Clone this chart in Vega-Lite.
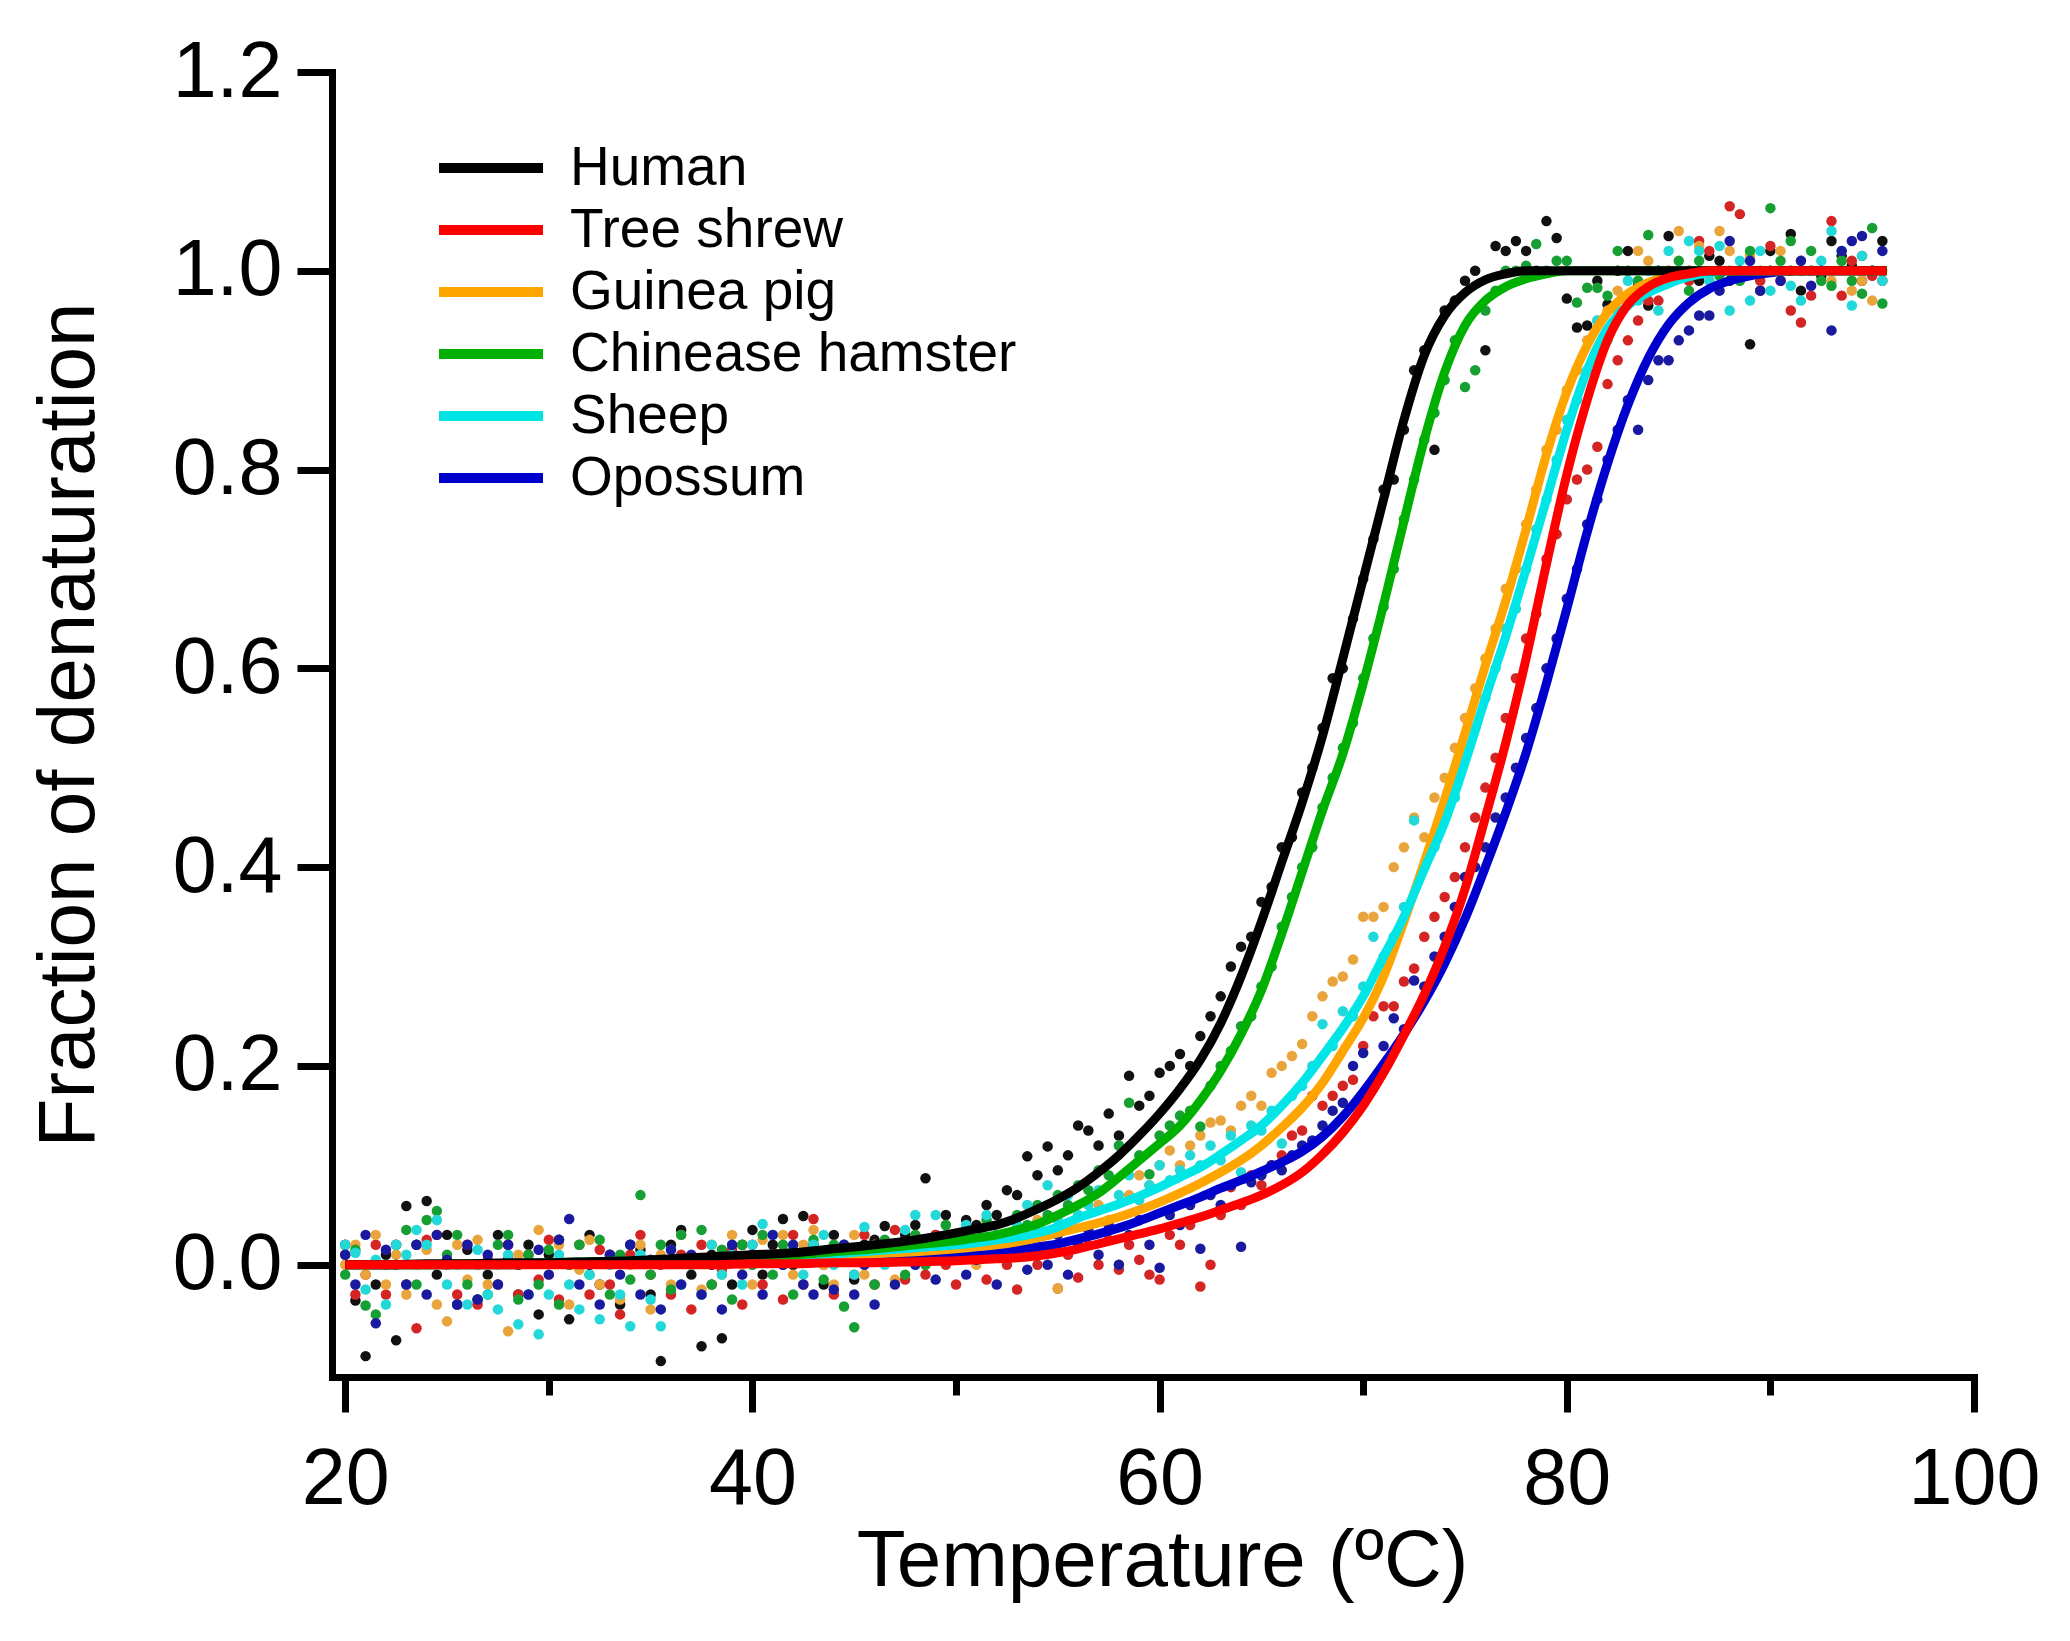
{
"$schema":"https://vega.github.io/schema/vega-lite/v6.json",
"width":1642,"height":1305,
"autosize":{"type":"none"},
"padding":{"left":332,"top":72,"right":96,"bottom":264},
"background":"white",
"config":{"view":{"stroke":null},"font":"Liberation Sans"},
"datasets":{
"obs":[
{"t":20,"Human":0.02,"Tree shrew":0.01,"Guinea pig":0,"Chinease hamster":-0.01,"Sheep":0.02,"Opossum":0.01},
{"t":20.5,"Human":-0.036,"Tree shrew":-0.03,"Guinea pig":0.02,"Chinease hamster":0.015,"Sheep":0.012,"Opossum":-0.02},
{"t":21,"Human":-0.092,"Tree shrew":-0.01,"Guinea pig":-0.01,"Chinease hamster":-0.041,"Sheep":-0.025,"Opossum":0.03},
{"t":21.5,"Human":-0.02,"Tree shrew":0.02,"Guinea pig":0.03,"Chinease hamster":-0.05,"Sheep":0.005,"Opossum":-0.059},
{"t":22,"Human":0.01,"Tree shrew":-0.03,"Guinea pig":-0.02,"Chinease hamster":0,"Sheep":-0.04,"Opossum":0.015},
{"t":22.5,"Human":-0.076,"Tree shrew":0.02,"Guinea pig":0.01,"Chinease hamster":0.02,"Sheep":0.02,"Opossum":0},
{"t":23,"Human":0.059,"Tree shrew":-0.02,"Guinea pig":-0.03,"Chinease hamster":0.035,"Sheep":0.01,"Opossum":-0.02},
{"t":23.5,"Human":0.02,"Tree shrew":-0.064,"Guinea pig":0,"Chinease hamster":-0.02,"Sheep":0.035,"Opossum":0.02},
{"t":24,"Human":0.064,"Tree shrew":0.025,"Guinea pig":0.015,"Chinease hamster":0.045,"Sheep":0.02,"Opossum":-0.03},
{"t":24.5,"Human":-0.01,"Tree shrew":0.03,"Guinea pig":-0.04,"Chinease hamster":0.054,"Sheep":0.045,"Opossum":0.03},
{"t":25,"Human":0.03,"Tree shrew":0,"Guinea pig":-0.057,"Chinease hamster":0.01,"Sheep":-0.02,"Opossum":0.005},
{"t":25.5,"Human":-0.04,"Tree shrew":-0.03,"Guinea pig":0.02,"Chinease hamster":0.03,"Sheep":0,"Opossum":-0.04},
{"t":26,"Human":0.015,"Tree shrew":0.02,"Guinea pig":-0.015,"Chinease hamster":-0.02,"Sheep":-0.04,"Opossum":0.02},
{"t":26.5,"Human":-0.035,"Tree shrew":-0.04,"Guinea pig":0.025,"Chinease hamster":0,"Sheep":0.015,"Opossum":-0.035},
{"t":27,"Human":-0.01,"Tree shrew":0.005,"Guinea pig":-0.02,"Chinease hamster":-0.03,"Sheep":-0.03,"Opossum":0.01},
{"t":27.5,"Human":0.03,"Tree shrew":-0.02,"Guinea pig":0,"Chinease hamster":0.02,"Sheep":-0.045,"Opossum":-0.02},
{"t":28,"Human":0.005,"Tree shrew":0.02,"Guinea pig":-0.067,"Chinease hamster":0.03,"Sheep":0.01,"Opossum":0.02},
{"t":28.5,"Human":-0.03,"Tree shrew":-0.03,"Guinea pig":0.01,"Chinease hamster":-0.035,"Sheep":-0.06,"Opossum":0},
{"t":29,"Human":0.02,"Tree shrew":0.01,"Guinea pig":-0.03,"Chinease hamster":0.01,"Sheep":-0.03,"Opossum":-0.03},
{"t":29.5,"Human":-0.05,"Tree shrew":-0.015,"Guinea pig":0.035,"Chinease hamster":-0.02,"Sheep":-0.07,"Opossum":0.015},
{"t":30,"Human":0.01,"Tree shrew":0.025,"Guinea pig":-0.01,"Chinease hamster":0.015,"Sheep":-0.03,"Opossum":-0.01},
{"t":30.5,"Human":0.025,"Tree shrew":-0.035,"Guinea pig":0.02,"Chinease hamster":-0.04,"Sheep":0.01,"Opossum":0.025},
{"t":31,"Human":-0.055,"Tree shrew":0,"Guinea pig":-0.04,"Chinease hamster":0,"Sheep":-0.02,"Opossum":0.046},
{"t":31.5,"Human":0,"Tree shrew":0.02,"Guinea pig":-0.005,"Chinease hamster":0.02,"Sheep":-0.045,"Opossum":-0.02},
{"t":32,"Human":0.03,"Tree shrew":-0.03,"Guinea pig":0.025,"Chinease hamster":-0.01,"Sheep":-0.01,"Opossum":0},
{"t":32.5,"Human":-0.02,"Tree shrew":0.015,"Guinea pig":-0.02,"Chinease hamster":0.025,"Sheep":-0.055,"Opossum":-0.04},
{"t":33,"Human":0.01,"Tree shrew":-0.02,"Guinea pig":0.01,"Chinease hamster":-0.03,"Sheep":0,"Opossum":0.01},
{"t":33.5,"Human":-0.04,"Tree shrew":-0.05,"Guinea pig":-0.035,"Chinease hamster":0.01,"Sheep":-0.03,"Opossum":-0.01},
{"t":34,"Human":0.02,"Tree shrew":0.01,"Guinea pig":0,"Chinease hamster":-0.015,"Sheep":-0.062,"Opossum":0.02},
{"t":34.5,"Human":0.015,"Tree shrew":0.03,"Guinea pig":0.02,"Chinease hamster":0.07,"Sheep":0.01,"Opossum":-0.03},
{"t":35,"Human":-0.03,"Tree shrew":-0.01,"Guinea pig":-0.045,"Chinease hamster":-0.01,"Sheep":-0.035,"Opossum":0.005},
{"t":35.5,"Human":-0.097,"Tree shrew":0,"Guinea pig":0.01,"Chinease hamster":0.02,"Sheep":-0.062,"Opossum":-0.045},
{"t":36,"Human":0.02,"Tree shrew":-0.03,"Guinea pig":-0.02,"Chinease hamster":-0.025,"Sheep":0.015,"Opossum":0.015},
{"t":36.5,"Human":0.035,"Tree shrew":0.01,"Guinea pig":0.03,"Chinease hamster":0.03,"Sheep":-0.02,"Opossum":-0.02},
{"t":37,"Human":-0.01,"Tree shrew":-0.045,"Guinea pig":0,"Chinease hamster":0.005,"Sheep":0,"Opossum":0.01},
{"t":37.5,"Human":-0.082,"Tree shrew":0.02,"Guinea pig":-0.025,"Chinease hamster":0.035,"Sheep":-0.03,"Opossum":-0.03},
{"t":38,"Human":0.01,"Tree shrew":-0.02,"Guinea pig":0.02,"Chinease hamster":-0.02,"Sheep":0.02,"Opossum":0},
{"t":38.5,"Human":-0.074,"Tree shrew":-0.005,"Guinea pig":-0.01,"Chinease hamster":0.015,"Sheep":-0.01,"Opossum":-0.045},
{"t":39,"Human":-0.02,"Tree shrew":0.015,"Guinea pig":0.03,"Chinease hamster":-0.035,"Sheep":0.01,"Opossum":0.02},
{"t":39.5,"Human":0.02,"Tree shrew":-0.04,"Guinea pig":0,"Chinease hamster":0.02,"Sheep":-0.02,"Opossum":-0.01},
{"t":40,"Human":0.035,"Tree shrew":0.02,"Guinea pig":-0.02,"Chinease hamster":0,"Sheep":0.02,"Opossum":0.01},
{"t":40.5,"Human":-0.01,"Tree shrew":-0.02,"Guinea pig":0.025,"Chinease hamster":0.03,"Sheep":0.041,"Opossum":-0.03},
{"t":41,"Human":0.02,"Tree shrew":0.01,"Guinea pig":0.01,"Chinease hamster":-0.01,"Sheep":0.03,"Opossum":0.03},
{"t":41.5,"Human":0.046,"Tree shrew":-0.035,"Guinea pig":0.03,"Chinease hamster":0.02,"Sheep":0,"Opossum":0},
{"t":42,"Human":0,"Tree shrew":0.03,"Guinea pig":-0.01,"Chinease hamster":-0.03,"Sheep":0.015,"Opossum":0.02},
{"t":42.5,"Human":0.049,"Tree shrew":-0.02,"Guinea pig":0.02,"Chinease hamster":0.01,"Sheep":-0.01,"Opossum":-0.02},
{"t":43,"Human":0.02,"Tree shrew":0.046,"Guinea pig":0.035,"Chinease hamster":0.025,"Sheep":0.02,"Opossum":-0.03},
{"t":43.5,"Human":-0.02,"Tree shrew":0,"Guinea pig":0,"Chinease hamster":-0.015,"Sheep":0.03,"Opossum":0.01},
{"t":44,"Human":0.03,"Tree shrew":-0.03,"Guinea pig":-0.02,"Chinease hamster":0.02,"Sheep":0,"Opossum":-0.025},
{"t":44.5,"Human":0.01,"Tree shrew":0.02,"Guinea pig":0.015,"Chinease hamster":-0.042,"Sheep":0.02,"Opossum":0.02},
{"t":45,"Human":-0.015,"Tree shrew":-0.01,"Guinea pig":0.03,"Chinease hamster":-0.063,"Sheep":-0.01,"Opossum":-0.03},
{"t":45.5,"Human":0.02,"Tree shrew":0.03,"Guinea pig":-0.01,"Chinease hamster":0.01,"Sheep":0.038,"Opossum":0},
{"t":46,"Human":0.025,"Tree shrew":-0.02,"Guinea pig":0.02,"Chinease hamster":-0.02,"Sheep":0.015,"Opossum":-0.04},
{"t":46.5,"Human":0.039,"Tree shrew":0.01,"Guinea pig":0.005,"Chinease hamster":0.025,"Sheep":0,"Opossum":0.01},
{"t":47,"Human":0.015,"Tree shrew":0.035,"Guinea pig":-0.015,"Chinease hamster":0.005,"Sheep":0.02,"Opossum":-0.02},
{"t":47.5,"Human":0.03,"Tree shrew":-0.015,"Guinea pig":0.02,"Chinease hamster":-0.01,"Sheep":0.035,"Opossum":0.015},
{"t":48,"Human":0.04,"Tree shrew":0.02,"Guinea pig":0.03,"Chinease hamster":0.03,"Sheep":0.05,"Opossum":0},
{"t":48.5,"Human":0.087,"Tree shrew":-0.01,"Guinea pig":0,"Chinease hamster":0,"Sheep":0.02,"Opossum":0.02},
{"t":49,"Human":0.03,"Tree shrew":0.03,"Guinea pig":0.02,"Chinease hamster":0.025,"Sheep":0.05,"Opossum":-0.015},
{"t":49.5,"Human":0.05,"Tree shrew":0,"Guinea pig":0.04,"Chinease hamster":0.04,"Sheep":0.03,"Opossum":0.01},
{"t":50,"Human":0.025,"Tree shrew":-0.02,"Guinea pig":0.01,"Chinease hamster":0.01,"Sheep":0.01,"Opossum":0.03},
{"t":50.5,"Human":0.045,"Tree shrew":0.02,"Guinea pig":0.03,"Chinease hamster":0.035,"Sheep":0.04,"Opossum":-0.01},
{"t":51,"Human":0.04,"Tree shrew":0.01,"Guinea pig":0,"Chinease hamster":0.02,"Sheep":0.02,"Opossum":0.005},
{"t":51.5,"Human":0.06,"Tree shrew":-0.015,"Guinea pig":0.04,"Chinease hamster":0.045,"Sheep":0.05,"Opossum":0.02},
{"t":52,"Human":0.05,"Tree shrew":0.015,"Guinea pig":0.02,"Chinease hamster":0.03,"Sheep":0.03,"Opossum":-0.02},
{"t":52.5,"Human":0.075,"Tree shrew":0,"Guinea pig":0.01,"Chinease hamster":0.02,"Sheep":0.015,"Opossum":0.01},
{"t":53,"Human":0.07,"Tree shrew":-0.025,"Guinea pig":0.035,"Chinease hamster":0.05,"Sheep":0.04,"Opossum":0.025},
{"t":53.5,"Human":0.109,"Tree shrew":0.02,"Guinea pig":0.02,"Chinease hamster":0.04,"Sheep":0.06,"Opossum":-0.005},
{"t":54,"Human":0.09,"Tree shrew":0,"Guinea pig":0.045,"Chinease hamster":0.06,"Sheep":0.03,"Opossum":0.015},
{"t":54.5,"Human":0.119,"Tree shrew":0.015,"Guinea pig":0.03,"Chinease hamster":0.05,"Sheep":0.08,"Opossum":0},
{"t":55,"Human":0.095,"Tree shrew":-0.024,"Guinea pig":-0.024,"Chinease hamster":0.07,"Sheep":0.045,"Opossum":0.03},
{"t":55.5,"Human":0.11,"Tree shrew":0.01,"Guinea pig":0.04,"Chinease hamster":0.06,"Sheep":0.07,"Opossum":-0.01},
{"t":56,"Human":0.14,"Tree shrew":-0.013,"Guinea pig":0.05,"Chinease hamster":0.08,"Sheep":0.05,"Opossum":0.02},
{"t":56.5,"Human":0.135,"Tree shrew":0.02,"Guinea pig":0.03,"Chinease hamster":0.075,"Sheep":0.06,"Opossum":0.035},
{"t":57,"Human":0.12,"Tree shrew":0,"Guinea pig":0.06,"Chinease hamster":0.095,"Sheep":0.075,"Opossum":0.01},
{"t":57.5,"Human":0.152,"Tree shrew":0.025,"Guinea pig":0.045,"Chinease hamster":0.09,"Sheep":0.04,"Opossum":0.04},
{"t":58,"Human":0.13,"Tree shrew":-0.005,"Guinea pig":0,"Chinease hamster":0.12,"Sheep":0.07,"Opossum":0},
{"t":58.5,"Human":0.19,"Tree shrew":0.02,"Guinea pig":0.07,"Chinease hamster":0.163,"Sheep":0.09,"Opossum":0.03},
{"t":59,"Human":0.16,"Tree shrew":0.005,"Guinea pig":0.09,"Chinease hamster":0.11,"Sheep":0.065,"Opossum":0.045},
{"t":59.5,"Human":0.17,"Tree shrew":-0.01,"Guinea pig":0.08,"Chinease hamster":0.091,"Sheep":0.08,"Opossum":0.02},
{"t":60,"Human":0.193,"Tree shrew":-0.015,"Guinea pig":0.1,"Chinease hamster":0.13,"Sheep":0.1,"Opossum":-0.003},
{"t":60.5,"Human":0.2,"Tree shrew":0.03,"Guinea pig":0.115,"Chinease hamster":0.14,"Sheep":0.085,"Opossum":0.05},
{"t":61,"Human":0.212,"Tree shrew":0.02,"Guinea pig":0.1,"Chinease hamster":0.15,"Sheep":0.095,"Opossum":0.04},
{"t":61.5,"Human":0.2,"Tree shrew":0.04,"Guinea pig":0.12,"Chinease hamster":0.155,"Sheep":0.11,"Opossum":0.06},
{"t":62,"Human":0.23,"Tree shrew":-0.022,"Guinea pig":0.13,"Chinease hamster":0.139,"Sheep":0.1,"Opossum":0.016},
{"t":62.5,"Human":0.25,"Tree shrew":0,"Guinea pig":0.143,"Chinease hamster":0.18,"Sheep":0.12,"Opossum":0.07},
{"t":63,"Human":0.27,"Tree shrew":0.05,"Guinea pig":0.145,"Chinease hamster":0.2,"Sheep":0.105,"Opossum":0.06},
{"t":63.5,"Human":0.3,"Tree shrew":0.078,"Guinea pig":0.135,"Chinease hamster":0.215,"Sheep":0.13,"Opossum":0.08},
{"t":64,"Human":0.32,"Tree shrew":0.06,"Guinea pig":0.16,"Chinease hamster":0.24,"Sheep":0.093,"Opossum":0.018},
{"t":64.5,"Human":0.33,"Tree shrew":0.09,"Guinea pig":0.17,"Chinease hamster":0.25,"Sheep":0.14,"Opossum":0.083},
{"t":65,"Human":0.365,"Tree shrew":0.08,"Guinea pig":0.16,"Chinease hamster":0.28,"Sheep":0.135,"Opossum":0.09},
{"t":65.5,"Human":0.38,"Tree shrew":0.1,"Guinea pig":0.193,"Chinease hamster":0.3,"Sheep":0.155,"Opossum":0.1},
{"t":66,"Human":0.42,"Tree shrew":0.11,"Guinea pig":0.2,"Chinease hamster":0.34,"Sheep":0.122,"Opossum":0.095},
{"t":66.5,"Human":0.43,"Tree shrew":0.13,"Guinea pig":0.21,"Chinease hamster":0.37,"Sheep":0.17,"Opossum":0.11},
{"t":67,"Human":0.475,"Tree shrew":0.135,"Guinea pig":0.222,"Chinease hamster":0.4,"Sheep":0.18,"Opossum":0.12},
{"t":67.5,"Human":0.5,"Tree shrew":0.17,"Guinea pig":0.25,"Chinease hamster":0.42,"Sheep":0.2,"Opossum":0.125},
{"t":68,"Human":0.54,"Tree shrew":0.16,"Guinea pig":0.27,"Chinease hamster":0.46,"Sheep":0.242,"Opossum":0.14},
{"t":68.5,"Human":0.59,"Tree shrew":0.17,"Guinea pig":0.285,"Chinease hamster":0.49,"Sheep":0.22,"Opossum":0.155},
{"t":69,"Human":0.6,"Tree shrew":0.18,"Guinea pig":0.29,"Chinease hamster":0.52,"Sheep":0.255,"Opossum":0.163},
{"t":69.5,"Human":0.65,"Tree shrew":0.186,"Guinea pig":0.307,"Chinease hamster":0.545,"Sheep":0.25,"Opossum":0.2},
{"t":70,"Human":0.69,"Tree shrew":0.22,"Guinea pig":0.35,"Chinease hamster":0.59,"Sheep":0.28,"Opossum":0.213},
{"t":70.5,"Human":0.73,"Tree shrew":0.25,"Guinea pig":0.35,"Chinease hamster":0.63,"Sheep":0.33,"Opossum":0.179},
{"t":71,"Human":0.78,"Tree shrew":0.26,"Guinea pig":0.36,"Chinease hamster":0.662,"Sheep":0.31,"Opossum":0.22},
{"t":71.5,"Human":0.79,"Tree shrew":0.26,"Guinea pig":0.4,"Chinease hamster":0.7,"Sheep":0.33,"Opossum":0.248},
{"t":72,"Human":0.84,"Tree shrew":0.285,"Guinea pig":0.42,"Chinease hamster":0.75,"Sheep":0.36,"Opossum":0.237},
{"t":72.5,"Human":0.9,"Tree shrew":0.298,"Guinea pig":0.45,"Chinease hamster":0.79,"Sheep":0.447,"Opossum":0.286},
{"t":73,"Human":0.92,"Tree shrew":0.33,"Guinea pig":0.43,"Chinease hamster":0.83,"Sheep":0.4,"Opossum":0.28},
{"t":73.5,"Human":0.82,"Tree shrew":0.35,"Guinea pig":0.47,"Chinease hamster":0.857,"Sheep":0.42,"Opossum":0.31},
{"t":74,"Human":0.96,"Tree shrew":0.37,"Guinea pig":0.49,"Chinease hamster":0.89,"Sheep":0.45,"Opossum":0.33},
{"t":74.5,"Human":0.97,"Tree shrew":0.39,"Guinea pig":0.52,"Chinease hamster":0.93,"Sheep":0.47,"Opossum":0.36},
{"t":75,"Human":0.99,"Tree shrew":0.42,"Guinea pig":0.55,"Chinease hamster":0.883,"Sheep":0.51,"Opossum":0.39},
{"t":75.5,"Human":1.0,"Tree shrew":0.45,"Guinea pig":0.58,"Chinease hamster":0.9,"Sheep":0.54,"Opossum":0.4},
{"t":76,"Human":0.92,"Tree shrew":0.48,"Guinea pig":0.61,"Chinease hamster":0.96,"Sheep":0.57,"Opossum":0.42},
{"t":76.5,"Human":1.025,"Tree shrew":0.51,"Guinea pig":0.64,"Chinease hamster":0.98,"Sheep":0.6,"Opossum":0.45},
{"t":77,"Human":1.02,"Tree shrew":0.55,"Guinea pig":0.68,"Chinease hamster":1.0,"Sheep":0.64,"Opossum":0.47},
{"t":77.5,"Human":1.03,"Tree shrew":0.59,"Guinea pig":0.7,"Chinease hamster":1.0,"Sheep":0.66,"Opossum":0.5},
{"t":78,"Human":1.02,"Tree shrew":0.63,"Guinea pig":0.745,"Chinease hamster":1.005,"Sheep":0.7,"Opossum":0.53},
{"t":78.5,"Human":1.0,"Tree shrew":0.655,"Guinea pig":0.78,"Chinease hamster":1.027,"Sheep":0.74,"Opossum":0.56},
{"t":79,"Human":1.05,"Tree shrew":0.71,"Guinea pig":0.82,"Chinease hamster":1.0,"Sheep":0.77,"Opossum":0.6},
{"t":79.5,"Human":1.033,"Tree shrew":0.735,"Guinea pig":0.84,"Chinease hamster":1.01,"Sheep":0.81,"Opossum":0.63},
{"t":80,"Human":0.972,"Tree shrew":0.77,"Guinea pig":0.88,"Chinease hamster":1.01,"Sheep":0.85,"Opossum":0.67},
{"t":80.5,"Human":0.943,"Tree shrew":0.79,"Guinea pig":0.9,"Chinease hamster":0.968,"Sheep":0.87,"Opossum":0.7},
{"t":81,"Human":0.945,"Tree shrew":0.8,"Guinea pig":0.93,"Chinease hamster":0.983,"Sheep":0.9,"Opossum":0.745},
{"t":81.5,"Human":0.99,"Tree shrew":0.823,"Guinea pig":0.95,"Chinease hamster":0.983,"Sheep":0.95,"Opossum":0.77},
{"t":82,"Human":0.966,"Tree shrew":0.886,"Guinea pig":0.96,"Chinease hamster":0.975,"Sheep":0.93,"Opossum":0.81},
{"t":82.5,"Human":1.0,"Tree shrew":0.91,"Guinea pig":0.98,"Chinease hamster":1.02,"Sheep":0.96,"Opossum":0.84},
{"t":83,"Human":1.02,"Tree shrew":0.93,"Guinea pig":1.0,"Chinease hamster":1.0,"Sheep":0.99,"Opossum":0.87},
{"t":83.5,"Human":0.985,"Tree shrew":0.95,"Guinea pig":1.02,"Chinease hamster":0.99,"Sheep":0.97,"Opossum":0.84},
{"t":84,"Human":0.965,"Tree shrew":0.97,"Guinea pig":1.01,"Chinease hamster":1.036,"Sheep":1.0,"Opossum":0.89},
{"t":84.5,"Human":1.0,"Tree shrew":0.97,"Guinea pig":0.99,"Chinease hamster":1.0,"Sheep":0.96,"Opossum":0.91},
{"t":85,"Human":1.035,"Tree shrew":1.0,"Guinea pig":1.0,"Chinease hamster":0.99,"Sheep":1.02,"Opossum":0.91},
{"t":85.5,"Human":1.0,"Tree shrew":1.0,"Guinea pig":1.04,"Chinease hamster":1.01,"Sheep":1.0,"Opossum":0.93},
{"t":86,"Human":1.0,"Tree shrew":0.99,"Guinea pig":1.0,"Chinease hamster":0.98,"Sheep":1.03,"Opossum":0.94},
{"t":86.5,"Human":0.99,"Tree shrew":1.03,"Guinea pig":1.025,"Chinease hamster":1.01,"Sheep":1.02,"Opossum":0.955},
{"t":87,"Human":1.015,"Tree shrew":1.02,"Guinea pig":0.99,"Chinease hamster":0.998,"Sheep":0.99,"Opossum":0.955},
{"t":87.5,"Human":1.01,"Tree shrew":1.0,"Guinea pig":1.04,"Chinease hamster":0.995,"Sheep":1.025,"Opossum":0.98},
{"t":88,"Human":0.99,"Tree shrew":1.065,"Guinea pig":1.02,"Chinease hamster":1.0,"Sheep":0.96,"Opossum":1.03},
{"t":88.5,"Human":1.0,"Tree shrew":1.057,"Guinea pig":1.0,"Chinease hamster":0.99,"Sheep":1.01,"Opossum":1.0},
{"t":89,"Human":0.926,"Tree shrew":1.0,"Guinea pig":1.015,"Chinease hamster":1.02,"Sheep":0.97,"Opossum":1.01},
{"t":89.5,"Human":0.98,"Tree shrew":0.99,"Guinea pig":0.98,"Chinease hamster":1.0,"Sheep":1.02,"Opossum":0.98},
{"t":90,"Human":1.02,"Tree shrew":1.025,"Guinea pig":1.0,"Chinease hamster":1.063,"Sheep":0.98,"Opossum":1.0},
{"t":90.5,"Human":1.0,"Tree shrew":0.99,"Guinea pig":1.02,"Chinease hamster":1.01,"Sheep":1.0,"Opossum":0.99},
{"t":91,"Human":1.037,"Tree shrew":0.96,"Guinea pig":1.0,"Chinease hamster":1.03,"Sheep":0.985,"Opossum":1.0},
{"t":91.5,"Human":0.98,"Tree shrew":0.948,"Guinea pig":1.01,"Chinease hamster":1.0,"Sheep":0.97,"Opossum":1.01},
{"t":92,"Human":1.0,"Tree shrew":0.975,"Guinea pig":1.0,"Chinease hamster":1.02,"Sheep":1.0,"Opossum":0.985},
{"t":92.5,"Human":0.995,"Tree shrew":1.0,"Guinea pig":1.0,"Chinease hamster":0.99,"Sheep":1.01,"Opossum":1.0},
{"t":93,"Human":1.03,"Tree shrew":1.05,"Guinea pig":0.99,"Chinease hamster":0.985,"Sheep":1.04,"Opossum":0.94},
{"t":93.5,"Human":1.015,"Tree shrew":0.975,"Guinea pig":1.01,"Chinease hamster":1.01,"Sheep":1.02,"Opossum":1.02},
{"t":94,"Human":1.005,"Tree shrew":1.01,"Guinea pig":0.98,"Chinease hamster":0.99,"Sheep":0.965,"Opossum":1.03},
{"t":94.5,"Human":0.99,"Tree shrew":1.015,"Guinea pig":0.99,"Chinease hamster":0.977,"Sheep":1.015,"Opossum":1.035},
{"t":95,"Human":1.0,"Tree shrew":0.995,"Guinea pig":0.97,"Chinease hamster":1.043,"Sheep":1.0,"Opossum":1.0},
{"t":95.5,"Human":1.03,"Tree shrew":0.99,"Guinea pig":1.0,"Chinease hamster":0.967,"Sheep":0.99,"Opossum":1.02}
],
"fit":[
{"t":20,"Human":0,"Tree shrew":0,"Guinea pig":0,"Chinease hamster":0,"Sheep":0,"Opossum":0},
{"t":22,"Human":0,"Tree shrew":0,"Guinea pig":0,"Chinease hamster":0,"Sheep":0,"Opossum":0},
{"t":24,"Human":0.001,"Tree shrew":0,"Guinea pig":0,"Chinease hamster":0,"Sheep":0,"Opossum":0},
{"t":26,"Human":0.001,"Tree shrew":0,"Guinea pig":0,"Chinease hamster":0.001,"Sheep":0,"Opossum":0},
{"t":28,"Human":0.002,"Tree shrew":0,"Guinea pig":0,"Chinease hamster":0.001,"Sheep":0,"Opossum":0},
{"t":30,"Human":0.002,"Tree shrew":0,"Guinea pig":0.001,"Chinease hamster":0.002,"Sheep":0.001,"Opossum":0.001},
{"t":32,"Human":0.003,"Tree shrew":0,"Guinea pig":0.001,"Chinease hamster":0.003,"Sheep":0.002,"Opossum":0.001},
{"t":34,"Human":0.004,"Tree shrew":0,"Guinea pig":0.002,"Chinease hamster":0.004,"Sheep":0.003,"Opossum":0.001},
{"t":36,"Human":0.006,"Tree shrew":0,"Guinea pig":0.003,"Chinease hamster":0.005,"Sheep":0.004,"Opossum":0.002},
{"t":38,"Human":0.008,"Tree shrew":0,"Guinea pig":0.004,"Chinease hamster":0.006,"Sheep":0.005,"Opossum":0.002},
{"t":40,"Human":0.01,"Tree shrew":0.001,"Guinea pig":0.006,"Chinease hamster":0.008,"Sheep":0.007,"Opossum":0.002},
{"t":42,"Human":0.012,"Tree shrew":0.001,"Guinea pig":0.007,"Chinease hamster":0.01,"Sheep":0.009,"Opossum":0.003},
{"t":44,"Human":0.016,"Tree shrew":0.002,"Guinea pig":0.009,"Chinease hamster":0.013,"Sheep":0.011,"Opossum":0.004},
{"t":46,"Human":0.02,"Tree shrew":0.002,"Guinea pig":0.011,"Chinease hamster":0.016,"Sheep":0.014,"Opossum":0.005},
{"t":48,"Human":0.025,"Tree shrew":0.003,"Guinea pig":0.013,"Chinease hamster":0.02,"Sheep":0.017,"Opossum":0.007},
{"t":50,"Human":0.032,"Tree shrew":0.004,"Guinea pig":0.016,"Chinease hamster":0.024,"Sheep":0.02,"Opossum":0.01},
{"t":51,"Human":0.036,"Tree shrew":0.005,"Guinea pig":0.018,"Chinease hamster":0.027,"Sheep":0.022,"Opossum":0.011},
{"t":52,"Human":0.04,"Tree shrew":0.006,"Guinea pig":0.02,"Chinease hamster":0.03,"Sheep":0.025,"Opossum":0.013},
{"t":53,"Human":0.047,"Tree shrew":0.007,"Guinea pig":0.023,"Chinease hamster":0.035,"Sheep":0.028,"Opossum":0.015},
{"t":54,"Human":0.056,"Tree shrew":0.009,"Guinea pig":0.027,"Chinease hamster":0.041,"Sheep":0.032,"Opossum":0.018},
{"t":55,"Human":0.066,"Tree shrew":0.012,"Guinea pig":0.032,"Chinease hamster":0.05,"Sheep":0.038,"Opossum":0.021},
{"t":56,"Human":0.078,"Tree shrew":0.016,"Guinea pig":0.037,"Chinease hamster":0.06,"Sheep":0.047,"Opossum":0.026},
{"t":57,"Human":0.093,"Tree shrew":0.021,"Guinea pig":0.042,"Chinease hamster":0.072,"Sheep":0.054,"Opossum":0.031},
{"t":58,"Human":0.11,"Tree shrew":0.026,"Guinea pig":0.048,"Chinease hamster":0.088,"Sheep":0.061,"Opossum":0.037},
{"t":59,"Human":0.13,"Tree shrew":0.031,"Guinea pig":0.055,"Chinease hamster":0.105,"Sheep":0.069,"Opossum":0.044},
{"t":60,"Human":0.152,"Tree shrew":0.036,"Guinea pig":0.063,"Chinease hamster":0.122,"Sheep":0.078,"Opossum":0.052},
{"t":61,"Human":0.177,"Tree shrew":0.042,"Guinea pig":0.072,"Chinease hamster":0.14,"Sheep":0.088,"Opossum":0.06},
{"t":62,"Human":0.206,"Tree shrew":0.048,"Guinea pig":0.082,"Chinease hamster":0.165,"Sheep":0.098,"Opossum":0.068},
{"t":63,"Human":0.243,"Tree shrew":0.055,"Guinea pig":0.093,"Chinease hamster":0.195,"Sheep":0.111,"Opossum":0.077},
{"t":64,"Human":0.29,"Tree shrew":0.062,"Guinea pig":0.105,"Chinease hamster":0.232,"Sheep":0.125,"Opossum":0.085},
{"t":65,"Human":0.345,"Tree shrew":0.07,"Guinea pig":0.12,"Chinease hamster":0.276,"Sheep":0.14,"Opossum":0.094},
{"t":66,"Human":0.405,"Tree shrew":0.08,"Guinea pig":0.138,"Chinease hamster":0.333,"Sheep":0.16,"Opossum":0.103},
{"t":67,"Human":0.465,"Tree shrew":0.093,"Guinea pig":0.158,"Chinease hamster":0.395,"Sheep":0.183,"Opossum":0.114},
{"t":68,"Human":0.532,"Tree shrew":0.111,"Guinea pig":0.183,"Chinease hamster":0.457,"Sheep":0.21,"Opossum":0.129},
{"t":69,"Human":0.61,"Tree shrew":0.133,"Guinea pig":0.215,"Chinease hamster":0.514,"Sheep":0.238,"Opossum":0.149},
{"t":70,"Human":0.69,"Tree shrew":0.16,"Guinea pig":0.248,"Chinease hamster":0.585,"Sheep":0.27,"Opossum":0.174},
{"t":71,"Human":0.77,"Tree shrew":0.193,"Guinea pig":0.29,"Chinease hamster":0.664,"Sheep":0.31,"Opossum":0.202},
{"t":72,"Human":0.85,"Tree shrew":0.231,"Guinea pig":0.345,"Chinease hamster":0.748,"Sheep":0.35,"Opossum":0.232},
{"t":73,"Human":0.915,"Tree shrew":0.272,"Guinea pig":0.405,"Chinease hamster":0.83,"Sheep":0.398,"Opossum":0.265},
{"t":74,"Human":0.955,"Tree shrew":0.32,"Guinea pig":0.468,"Chinease hamster":0.898,"Sheep":0.445,"Opossum":0.303},
{"t":75,"Human":0.978,"Tree shrew":0.378,"Guinea pig":0.535,"Chinease hamster":0.945,"Sheep":0.505,"Opossum":0.348},
{"t":76,"Human":0.991,"Tree shrew":0.45,"Guinea pig":0.603,"Chinease hamster":0.97,"Sheep":0.57,"Opossum":0.4},
{"t":77,"Human":0.997,"Tree shrew":0.525,"Guinea pig":0.668,"Chinease hamster":0.984,"Sheep":0.632,"Opossum":0.455},
{"t":78,"Human":1,"Tree shrew":0.61,"Guinea pig":0.74,"Chinease hamster":0.992,"Sheep":0.7,"Opossum":0.515},
{"t":79,"Human":1,"Tree shrew":0.705,"Guinea pig":0.815,"Chinease hamster":0.997,"Sheep":0.77,"Opossum":0.585},
{"t":80,"Human":1,"Tree shrew":0.795,"Guinea pig":0.878,"Chinease hamster":1,"Sheep":0.84,"Opossum":0.66},
{"t":81,"Human":1,"Tree shrew":0.87,"Guinea pig":0.925,"Chinease hamster":1,"Sheep":0.9,"Opossum":0.737},
{"t":82,"Human":1,"Tree shrew":0.93,"Guinea pig":0.958,"Chinease hamster":1,"Sheep":0.942,"Opossum":0.806},
{"t":83,"Human":1,"Tree shrew":0.966,"Guinea pig":0.977,"Chinease hamster":1,"Sheep":0.965,"Opossum":0.865},
{"t":84,"Human":1,"Tree shrew":0.984,"Guinea pig":0.988,"Chinease hamster":1,"Sheep":0.978,"Opossum":0.912},
{"t":85,"Human":1,"Tree shrew":0.993,"Guinea pig":0.995,"Chinease hamster":1,"Sheep":0.987,"Opossum":0.946},
{"t":86,"Human":1,"Tree shrew":0.997,"Guinea pig":0.999,"Chinease hamster":1,"Sheep":0.994,"Opossum":0.968},
{"t":87,"Human":1,"Tree shrew":1,"Guinea pig":1,"Chinease hamster":1,"Sheep":0.998,"Opossum":0.982},
{"t":88,"Human":1,"Tree shrew":1,"Guinea pig":1,"Chinease hamster":1,"Sheep":1,"Opossum":0.99},
{"t":89,"Human":1,"Tree shrew":1,"Guinea pig":1,"Chinease hamster":1,"Sheep":1,"Opossum":0.995},
{"t":90,"Human":1,"Tree shrew":1,"Guinea pig":1,"Chinease hamster":1,"Sheep":1,"Opossum":0.998},
{"t":91,"Human":1,"Tree shrew":1,"Guinea pig":1,"Chinease hamster":1,"Sheep":1,"Opossum":1},
{"t":93,"Human":1,"Tree shrew":1,"Guinea pig":1,"Chinease hamster":1,"Sheep":1,"Opossum":1},
{"t":95.7,"Human":1,"Tree shrew":1,"Guinea pig":1,"Chinease hamster":1,"Sheep":1,"Opossum":1}
]
},
"encoding":{
"x":{"field":"t","type":"quantitative","scale":{"domain":[19.35,100],"nice":false,"zero":false},
"axis":{"title":"Temperature (ºC)","values":[20,30,40,50,60,70,80,90,100],"format":"d",
"labelExpr":"datum.value % 20 === 0 ? datum.label : ''",
"tickSize":{"condition":{"test":"datum.value % 20 === 0","value":35},"value":18},
"tickWidth":7,"tickColor":"#000","domainColor":"#000","domainWidth":7,"domainCap":"square",
"labelFont":"Liberation Sans","labelFontSize":79,"labelColor":"#000","labelPadding":29,"labelFlush":false,"labelOverlap":false,
"titleFont":"Liberation Sans","titleFontSize":80,"titleFontWeight":"normal","titleColor":"#000","titlePadding":3,"titleX":830,"grid":false}},
"y":{"field":"value","type":"quantitative","scale":{"domain":[-0.113,1.2],"nice":false,"zero":false},
"axis":{"title":"Fraction of denaturation","values":[0,0.2,0.4,0.6,0.8,1,1.2],"format":".1f",
"tickSize":35,"tickWidth":7,"tickColor":"#000","domainColor":"#000","domainWidth":7,"domainCap":"square",
"labelFont":"Liberation Sans","labelFontSize":79,"labelColor":"#000","labelPadding":15,"labelFlush":false,"labelOverlap":false,
"titleFont":"Liberation Sans","titleFontSize":80,"titleFontWeight":"normal","titleColor":"#000","titlePadding":62,"grid":false}}
},
"layer":[
{"data":{"name":"obs"},
"transform":[{"fold":["Human","Tree shrew","Guinea pig","Chinease hamster","Sheep","Opossum"],"as":["sp","value"]}],
"mark":{"type":"circle","size":110,"opacity":1},
"encoding":{
"fill":{"field":"sp","type":"nominal",
"scale":{"domain":["Chinease hamster","Guinea pig","Human","Opossum","Sheep","Tree shrew"],"range":["#16a034","#eaa43c","#111111","#1a1aa0","#22d8d8","#d42424"]},
"legend":null}}},
{"data":{"name":"fit"},
"transform":[{"fold":["Opossum","Guinea pig","Sheep","Chinease hamster","Human","Tree shrew"],"as":["species","value"]}],
"mark":{"type":"line","strokeWidth":9,"interpolate":"monotone"},
"encoding":{
"stroke":{"field":"species","type":"nominal",
"scale":{"domain":["Human","Tree shrew","Guinea pig","Chinease hamster","Sheep","Opossum"],"range":["#000000","#ff0000","#ffa500","#00b000","#00e5e5","#0000cc"]},
"legend":{"title":null,"orient":"none","legendX":128,"legendY":65,"symbolType":"M-2,0H2","symbolSize":2704,"symbolStrokeWidth":10,
"labelFont":"Liberation Sans","labelFontSize":55,"labelColor":"#000","labelOffset":48,"labelLimit":700,"rowPadding":3,"padding":0}}}}
]
}
